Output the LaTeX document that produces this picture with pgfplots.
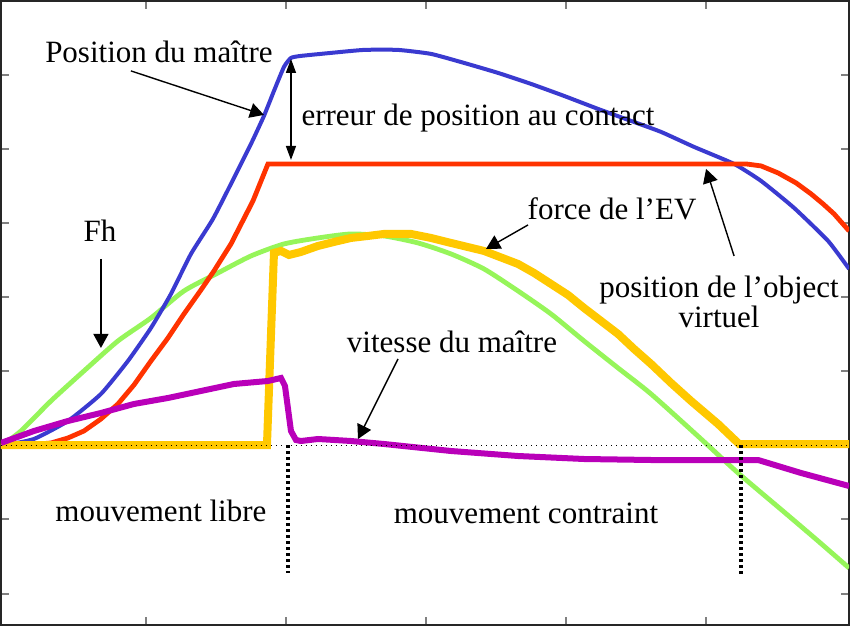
\documentclass[border=0pt]{standalone}
\usepackage{fontspec}
\setmainfont{Liberation Serif}
\usepackage{pgfplots}
\pgfplotsset{compat=1.18}
\usetikzlibrary{arrows.meta}

\definecolor{cblue}{RGB}{58,58,208}
\definecolor{cred}{RGB}{255,51,0}
\definecolor{cgreen}{RGB}{150,245,90}
\definecolor{corange}{RGB}{255,200,0}
\definecolor{cpurple}{RGB}{185,0,185}

\begin{document}
\begin{tikzpicture}[
    lbl/.style={anchor=base, inner sep=0pt, font=\fontsize{15.5}{18}\selectfont},
    arr/.style={line width=0.7pt, -{Triangle[length=7pt, width=7.5pt]}}
  ]
  \begin{axis}[
      scale only axis,
      width=424pt, height=312pt,
      xmin=0, xmax=848,
      ymin=-180, ymax=444,
      xtick={145,285,425,565,705},
      ytick={-149,-74,0,74,148,222,296,370},
      xticklabels={}, yticklabels={},
      tick label style={overlay},
      tick align=inside,
      major tick length=4pt,
      tick style={gray, line width=0.6pt},
      axis line style={black!85, line width=0.9pt},
    ]
    % Fh
    \addplot[cgreen, line width=2.4pt, smooth, tension=0.4] coordinates {
      (0,-1) (20,14) (50,44) (83,74) (117,104) (150,127) (183,154) (217,172)
      (250,189) (283,201) (317,207) (350,211) (383,209) (417,202) (450,191)
      (483,176) (517,154) (550,131) (583,104) (617,77) (650,51) (700,6)
      (737,-28) (783,-67) (817,-96) (848,-123)};
    % position du maitre
    \addplot[cblue, line width=2pt, smooth, tension=0.3] coordinates {
      (0,-1) (33,6) (67,24) (100,51) (127,84) (150,117) (170,151) (190,191)
      (212,226) (233,267) (250,301) (263,329) (273,354) (283,378) (290,387)
      (300,389) (330,392) (363,395) (397,395) (430,391) (463,382) (497,372)
      (530,361) (563,349) (597,336) (630,324) (660,313) (693,298) (733,281)
      (760,264) (793,237) (827,204) (848,176)};
    % position de l'objet virtuel
    \addplot[cred, line width=2.4pt] coordinates {
      (0,-1) (25,0) (50,2) (67,7) (83,14) (100,26) (117,41) (133,60)
      (150,84) (167,107) (183,131) (200,155) (213,174) (230,201) (252,244)
      (267,281) (745,281) (760,279) (777,272) (795,262) (810,251) (822,241)
      (833,231) (848,214)};
    % force de l'EV
    \addplot[corange, line width=4pt] coordinates {
      (0,0) (266,0) (273,192) (280,194) (288,190) (300,193) (317,199)
      (333,203) (350,207) (367,209) (383,211) (410,211) (430,207) (450,202)
      (483,194) (517,181) (533,172) (550,161) (567,150) (583,137) (600,124)
      (617,111) (633,96) (650,81) (670,62) (690,44) (717,21) (738,1) (848,1)};
    % vitesse du maitre
    \addplot[cpurple, line width=3pt] coordinates {
      (0,2) (33,14) (67,24) (100,32) (133,41) (167,47) (200,54) (233,61)
      (267,64) (280,67) (284,59) (290,14) (295,5) (300,4) (317,6) (350,4)
      (383,1) (450,-6) (517,-11) (583,-14) (650,-15) (757,-15) (767,-18)
      (800,-28) (848,-41)};
    % reference lines
    \addplot[black, line width=0.5pt, dotted] coordinates {(0,0) (848,0)};
    \addplot[black, line width=1.6pt, dash pattern=on 1.5pt off 1.5pt] coordinates {(287,0) (287,-128)};
    \addplot[black, line width=1.6pt, dash pattern=on 1.5pt off 1.5pt] coordinates {(740,0) (740,-129)};

    % annotations
    \node[lbl] at (axis cs:158,382) {Position du maître};
    \draw[arr] (axis cs:130,374) -- (axis cs:263,330);
    \node[lbl] at (axis cs:477,319) {erreur de position au contact};
    \draw[line width=0.7pt, {Triangle[length=7pt, width=5pt]}-{Triangle[length=7pt, width=5pt]}]
      (axis cs:290,386) -- (axis cs:290,285);
    \node[lbl] at (axis cs:611,225) {force de l’EV};
    \draw[arr] (axis cs:527,220) -- (axis cs:485,196);
    \node[lbl] at (axis cs:718,147) {position de l’object};
    \node[lbl] at (axis cs:718,117) {virtuel};
    \draw[arr] (axis cs:733,189) -- (axis cs:705,276);
    \node[lbl] at (axis cs:99,203) {Fh};
    \draw[arr] (axis cs:100,186) -- (axis cs:100,97);
    \node[lbl] at (axis cs:451,92) {vitesse du maître};
    \draw[arr] (axis cs:397,86) -- (axis cs:357,6);
    \node[lbl] at (axis cs:160,-76) {mouvement libre};
    \node[lbl] at (axis cs:525,-78) {mouvement contraint};
  \end{axis}
  \pgfresetboundingbox
  \path ([shift={(-0.45pt,-0.45pt)}]current axis.south west)
    rectangle ([shift={(0.45pt,0.45pt)}]current axis.north east);
\end{tikzpicture}
\end{document}
